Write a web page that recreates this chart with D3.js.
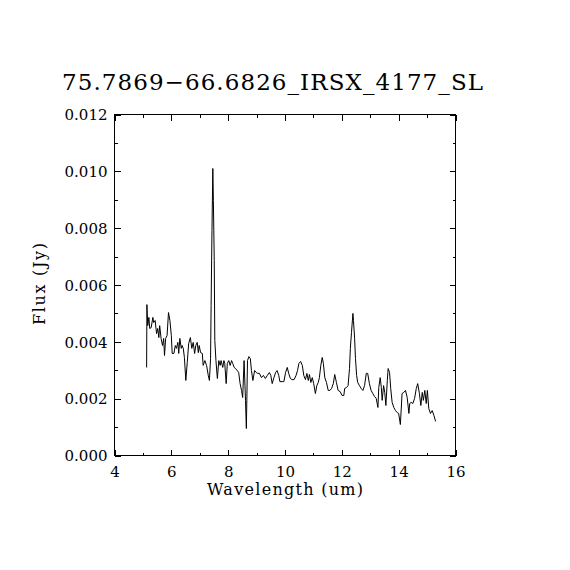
<!DOCTYPE html>
<html>
<head>
<meta charset="utf-8">
<script src="https://cdn.jsdelivr.net/npm/d3@7"></script>
<style>
  body { margin: 0; background: #fff; }
  text { font-family: "DejaVu Serif", "Liberation Serif", serif; fill: #000; }
</style>
</head>
<body>
<svg id="chart" width="570" height="570"></svg>
<script>
// spectrum (wavelength in um, flux in Jy)
var wavelength = [
  5.13, 5.14, 5.17, 5.21, 5.24, 5.29, 5.35, 5.38, 5.43, 5.48, 5.52, 5.56, 5.59, 5.64, 5.69, 5.73,
  5.76, 5.80, 5.85, 5.90, 5.95, 6.00, 6.03, 6.09, 6.14, 6.18, 6.23, 6.26, 6.30, 6.35, 6.38, 6.42,
  6.46, 6.51, 6.56, 6.61, 6.67, 6.72, 6.77, 6.82, 6.86, 6.91, 6.95, 6.98, 7.03, 7.09, 7.12, 7.18,
  7.24, 7.30, 7.34, 7.38, 7.40, 7.43, 7.46, 7.48, 7.51, 7.53, 7.57, 7.62, 7.67, 7.72, 7.75, 7.81,
  7.85, 7.88, 7.93, 7.97, 8.02, 8.07, 8.12, 8.16, 8.21, 8.26, 8.32, 8.37, 8.42, 8.47, 8.51, 8.56,
  8.61, 8.64, 8.68, 8.73, 8.78, 8.82, 8.87, 8.93, 8.99, 9.04, 9.10, 9.17, 9.24, 9.31, 9.38, 9.45,
  9.50, 9.55, 9.61, 9.67, 9.72, 9.78, 9.82, 9.90, 9.96, 10.02, 10.08, 10.13, 10.19, 10.25, 10.32, 10.39,
  10.44, 10.49, 10.55, 10.61, 10.66, 10.72, 10.77, 10.82, 10.86, 10.91, 10.96, 11.01, 11.07, 11.12, 11.17, 11.21,
  11.26, 11.31, 11.35, 11.40, 11.46, 11.52, 11.58, 11.64, 11.70, 11.75, 11.81, 11.87, 11.94, 12.01, 12.07, 12.10,
  12.16, 12.22, 12.27, 12.30, 12.34, 12.39, 12.41, 12.45, 12.48, 12.52, 12.56, 12.62, 12.68, 12.74, 12.80, 12.86,
  12.91, 12.97, 13.03, 13.09, 13.15, 13.21, 13.27, 13.30, 13.35, 13.39, 13.42, 13.47, 13.51, 13.55, 13.60, 13.63,
  13.68, 13.72, 13.77, 13.83, 13.89, 13.95, 14.00, 14.06, 14.12, 14.18, 14.24, 14.30, 14.36, 14.39, 14.44, 14.50,
  14.56, 14.62, 14.67, 14.73, 14.78, 14.83, 14.87, 14.92, 14.97, 15.01, 15.06, 15.12, 15.18, 15.24, 15.30
];
var flux = [
  0.00310, 0.00531, 0.00457, 0.00486, 0.00447, 0.00450, 0.00486, 0.00468, 0.00475, 0.00429, 0.00447, 0.00415, 0.00457, 0.00412, 0.00387, 0.00412,
  0.00352, 0.00412, 0.00422, 0.00503, 0.00475, 0.00422, 0.00359, 0.00359, 0.00387, 0.00377, 0.00398, 0.00359, 0.00412, 0.00377, 0.00387, 0.00377,
  0.00345, 0.00264, 0.00327, 0.00394, 0.00415, 0.00377, 0.00398, 0.00359, 0.00387, 0.00398, 0.00362, 0.00387, 0.00362, 0.00359, 0.00317, 0.00334,
  0.00317, 0.00282, 0.00264, 0.00341, 0.00528, 0.00792, 0.01010, 0.00897, 0.00686, 0.00405, 0.00334, 0.00271, 0.00334, 0.00317, 0.00334, 0.00310,
  0.00334, 0.00324, 0.00253, 0.00324, 0.00334, 0.00317, 0.00334, 0.00324, 0.00310, 0.00306, 0.00299, 0.00292, 0.00253, 0.00229, 0.00204, 0.00334,
  0.00194, 0.00095, 0.00334, 0.00348, 0.00341, 0.00299, 0.00264, 0.00299, 0.00292, 0.00289, 0.00289, 0.00274, 0.00282, 0.00271, 0.00282, 0.00292,
  0.00282, 0.00253, 0.00274, 0.00292, 0.00299, 0.00282, 0.00260, 0.00260, 0.00260, 0.00292, 0.00310, 0.00289, 0.00271, 0.00267, 0.00267, 0.00282,
  0.00299, 0.00324, 0.00331, 0.00317, 0.00282, 0.00267, 0.00289, 0.00264, 0.00285, 0.00257, 0.00274, 0.00253, 0.00218, 0.00246, 0.00257, 0.00274,
  0.00317, 0.00345, 0.00324, 0.00274, 0.00257, 0.00229, 0.00229, 0.00236, 0.00253, 0.00285, 0.00257, 0.00229, 0.00225, 0.00211, 0.00211, 0.00236,
  0.00239, 0.00246, 0.00306, 0.00377, 0.00433, 0.00500, 0.00475, 0.00412, 0.00341, 0.00282, 0.00257, 0.00246, 0.00236, 0.00229, 0.00246, 0.00289,
  0.00289, 0.00253, 0.00229, 0.00218, 0.00208, 0.00201, 0.00169, 0.00239, 0.00274, 0.00239, 0.00194, 0.00246, 0.00222, 0.00176, 0.00264, 0.00306,
  0.00292, 0.00236, 0.00187, 0.00169, 0.00158, 0.00151, 0.00148, 0.00109, 0.00218, 0.00222, 0.00229, 0.00204, 0.00148, 0.00183, 0.00187, 0.00183,
  0.00201, 0.00236, 0.00253, 0.00218, 0.00176, 0.00222, 0.00194, 0.00229, 0.00183, 0.00229, 0.00165, 0.00148, 0.00158, 0.00141, 0.00120
];
var xTicks = [4, 6, 8, 10, 12, 14, 16];
var yTicks = [0, 0.002, 0.004, 0.006, 0.008, 0.010, 0.012];
var titleText = "75.7869\u221266.6826_IRSX_4177_SL";
var xLabel = "Wavelength (um)";
var yLabel = "Flux (Jy)";

var svg = d3.select("#chart");
var margin = { top: 114, left: 114 };
var width = 341;
var height = 341;

var g = svg.append("g").attr("transform", "translate(" + (margin.left + 0.5) + "," + (margin.top + 0.5) + ")");

var x = d3.scaleLinear().domain([4, 16]).range([0, width]);
var y = d3.scaleLinear().domain([0, 0.012]).range([height, 0]);

var points = wavelength.map(function (w, i) { return [w, flux[i]]; });

// spectrum
g.append("path")
  .datum(points)
  .attr("fill", "none")
  .attr("stroke", "#000")
  .attr("stroke-width", 1)
  .attr("stroke-linejoin", "miter")
  .attr("d", d3.line()
    .x(function (d) { return x(d[0]); })
    .y(function (d) { return y(d[1]); }));

// frame
g.append("rect")
  .attr("width", width)
  .attr("height", height)
  .attr("fill", "none")
  .attr("stroke", "#000")
  .attr("stroke-width", 1)
  .attr("shape-rendering", "crispEdges");

// inward ticks on all four sides, minor ones at half steps
var xMinor = d3.range(5, 16, 2);
var yMinor = d3.range(0.001, 0.012, 0.002);
function tickAxis(axisFn, scale, values, size, tx, ty) {
  g.append("g")
    .attr("transform", "translate(" + tx + "," + ty + ")")
    .attr("shape-rendering", "crispEdges")
    .call(axisFn(scale).tickValues(values).tickSize(size).tickFormat(""))
    .call(function (s) { s.select(".domain").remove(); });
}
tickAxis(d3.axisTop, x, xTicks, 6, 0, height);
tickAxis(d3.axisTop, x, xMinor, 3, 0, height);
tickAxis(d3.axisBottom, x, xTicks, 6, 0, 0);
tickAxis(d3.axisBottom, x, xMinor, 3, 0, 0);
tickAxis(d3.axisRight, y, yTicks, 6, 0, 0);
tickAxis(d3.axisRight, y, yMinor, 3, 0, 0);
tickAxis(d3.axisLeft, y, yTicks, 6, width, 0);
tickAxis(d3.axisLeft, y, yMinor, 3, width, 0);

// tick labels
g.append("g")
  .attr("transform", "translate(0," + height + ")")
  .call(d3.axisBottom(x).tickValues(xTicks).tickSize(0).tickPadding(0).tickFormat(d3.format("d")))
  .call(function (s) {
    s.select(".domain").remove();
    s.selectAll("text").attr("font-size", "15px").attr("font-family", "DejaVu Serif").attr("fill", "#000")
      .attr("dy", null).attr("y", 21);
  });
g.append("g")
  .call(d3.axisLeft(y).tickValues(yTicks).tickSize(0).tickPadding(7).tickFormat(d3.format(".3f")))
  .call(function (s) {
    s.select(".domain").remove();
    s.selectAll("text").attr("font-size", "15px").attr("font-family", "DejaVu Serif").attr("fill", "#000")
      .attr("dy", "0.35em");
  });

// titles
svg.append("text")
  .attr("x", 272.5)
  .attr("y", 90)
  .attr("text-anchor", "middle")
  .attr("font-size", "23px")
  .attr("textLength", 421)
  .text(titleText);
svg.append("text")
  .attr("x", 285)
  .attr("y", 495)
  .attr("text-anchor", "middle")
  .attr("font-size", "16px")
  .attr("textLength", 156)
  .text(xLabel);
svg.append("text")
  .attr("transform", "translate(45,284) rotate(-90)")
  .attr("text-anchor", "middle")
  .attr("font-size", "16px")
  .attr("textLength", 82)
  .text(yLabel);
</script>
</body>
</html>
